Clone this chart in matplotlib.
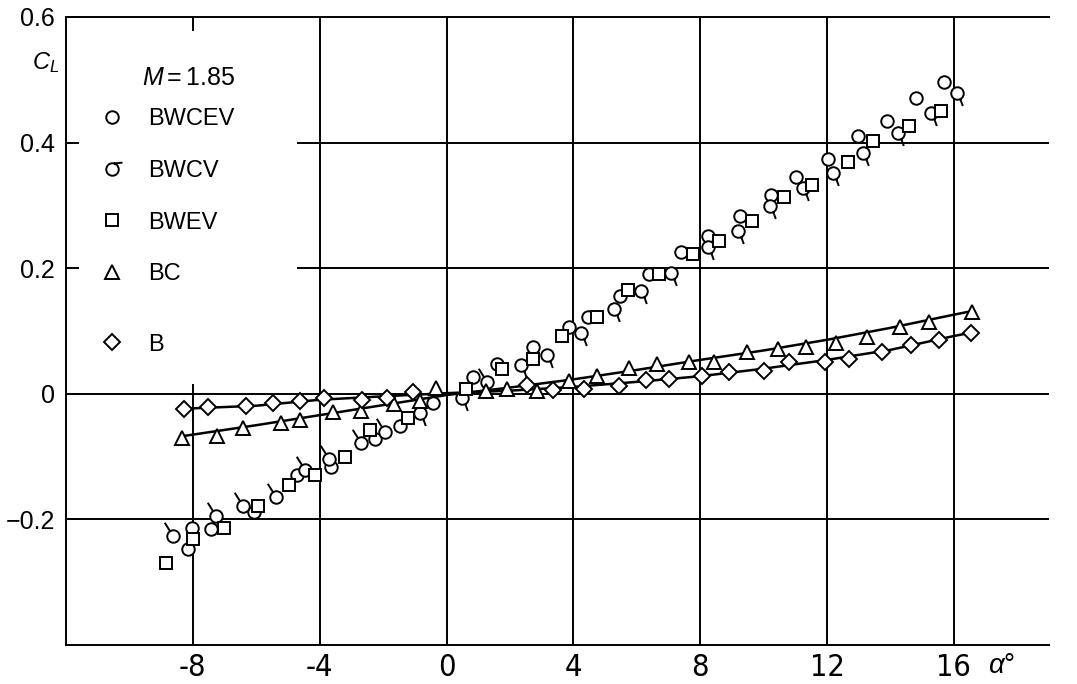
import numpy as np
import matplotlib.pyplot as plt
from matplotlib.path import Path
from matplotlib.lines import Line2D

# valores: alpha (grados) y C_L, M = 1.85
a_bwcev = [-8.16, -8.03, -7.43, -6.06, -4.71, -3.65, -2.27, -1.47, -0.42, 0.84, 1.58, 2.74,
           3.86, 4.47, 5.46, 6.37, 7.39, 8.26, 9.25, 10.23, 11.02, 12.02, 12.97, 13.88, 14.82, 15.68]
cl_bwcev = [-0.247, -0.214, -0.215, -0.189, -0.129, -0.116, -0.072, -0.052, -0.015, 0.027, 0.048, 0.074,
            0.107, 0.122, 0.156, 0.191, 0.226, 0.251, 0.283, 0.317, 0.346, 0.374, 0.411, 0.435, 0.471, 0.496]

# BWCV: banderita hacia arriba-izquierda
a_bwcv_up = [-8.61, -7.27, -6.43, -5.37, -4.45, -3.72, -2.69, -1.93, 1.28]
cl_bwcv_up = [-0.227, -0.194, -0.178, -0.165, -0.121, -0.104, -0.079, -0.061, 0.019]
# BWCV: banderita hacia abajo-derecha
a_bwcv_dn = [-0.84, 0.50, 2.34, 3.18, 4.23, 5.28, 6.13, 7.09, 8.25, 9.18, 10.21, 11.23,
             12.18, 13.15, 14.23, 15.28, 16.10]
cl_bwcv_dn = [-0.031, -0.007, 0.046, 0.062, 0.097, 0.135, 0.163, 0.192, 0.234, 0.260, 0.299, 0.328,
              0.352, 0.383, 0.415, 0.447, 0.479]

a_bwev = [-8.84, -8.00, -7.01, -5.96, -4.96, -4.14, -3.21, -2.42, -1.21, 0.63, 1.76, 2.74, 3.63,
          4.76, 5.71, 6.70, 7.76, 8.60, 9.63, 10.63, 11.52, 12.67, 13.44, 14.58, 15.58]
cl_bwev = [-0.269, -0.231, -0.213, -0.179, -0.145, -0.129, -0.101, -0.058, -0.039, 0.0075, 0.040, 0.056, 0.092,
           0.122, 0.166, 0.191, 0.222, 0.243, 0.275, 0.313, 0.333, 0.369, 0.403, 0.427, 0.450]

a_bc = [-8.35, -7.24, -6.43, -5.21, -4.61, -3.58, -2.69, -1.66, -0.84, -0.33, 1.23, 1.92, 2.84, 3.86,
        4.76, 5.76, 6.65, 7.65, 8.44, 9.49, 10.44, 11.34, 12.28, 13.26, 14.31, 15.23, 16.58]
cl_bc = [-0.071, -0.067, -0.054, -0.046, -0.042, -0.029, -0.028, -0.016, -0.012, 0.009, 0.004, 0.0075, 0.005, 0.021,
         0.029, 0.041, 0.048, 0.051, 0.051, 0.067, 0.071, 0.075, 0.081, 0.090, 0.106, 0.115, 0.131]

a_b = [-8.29, -7.51, -6.32, -5.48, -4.61, -3.87, -2.66, -1.89, -1.06, 2.53, 3.37, 4.34, 5.44, 6.28,
       7.02, 8.07, 8.91, 10.00, 10.81, 11.94, 12.70, 13.73, 14.65, 15.54, 16.55]
cl_b = [-0.024, -0.021, -0.020, -0.015, -0.011, -0.007, -0.0096, -0.007, 0.003, 0.014, 0.006, 0.0075, 0.013, 0.022,
        0.024, 0.029, 0.034, 0.037, 0.050, 0.0505, 0.056, 0.066, 0.078, 0.086, 0.097]

# curvas de ajuste
a_fit = [-8.4, -6, -4, -2, 0, 2, 4, 6, 8, 10, 12, 14, 16, 16.6]
cl_fit_bc = [-0.068, -0.050, -0.034, -0.018, -0.002, 0.010, 0.023, 0.038, 0.054, 0.069, 0.086, 0.105, 0.126, 0.132]
cl_fit_b = [-0.024, -0.019, -0.0095, -0.004, 0.001, 0.005, 0.011, 0.019, 0.028, 0.040, 0.054, 0.070, 0.092, 0.098]

x_ticks = [-8, -4, 0, 4, 8, 12, 16]
y_ticks = [-0.2, 0, 0.2, 0.4, 0.6]
y_labels = ['\u22120.2', '0', '0.2', '0.4', '0.6']

plt.rcParams['font.family'] = ['Liberation Sans', 'DejaVu Sans']
plt.rcParams['mathtext.fontset'] = 'custom'
plt.rcParams['mathtext.rm'] = 'Liberation Sans'
plt.rcParams['mathtext.it'] = 'Liberation Sans:italic'


def flag(sx, sy, ex, ey):
    # circulo con "banderita"
    p = Path.make_compound_path(Path.unit_circle(),
                                Path([(sx, sy), (ex, ey)], [Path.MOVETO, Path.LINETO]))
    return p, np.abs(p.vertices).max()


m_up, s_up = flag(-0.55, 0.85, -1.4, 2.2)
m_dn, s_dn = flag(0.45, -0.9, 0.85, -2.0)
m_leg, s_leg = flag(0.25, 0.97, 1.6, 1.1)

ms_c = 9
kw = dict(ls='none', mfc='white', mec='black', mew=1.4, zorder=4)

fig = plt.figure(figsize=(10.77, 6.84), dpi=100)
ax = fig.add_axes([66 / 1077, 1 - 645 / 684, 983 / 1077, 628 / 684])
ax.set_xlim(-12, 19)
ax.set_ylim(-0.4, 0.6)

# rejilla (con hueco para la leyenda)
lw = 1.4
for x in x_ticks:
    if x == -8:
        ax.axvline(x, ymin=0, ymax=0.414, color='k', lw=lw, zorder=1)
        ax.axvline(x, ymin=0.979, ymax=1, color='k', lw=lw, zorder=1)
    else:
        ax.axvline(x, color='k', lw=lw, zorder=1)
for y in y_ticks[:-1]:
    if y > 0.1:
        ax.axhline(y, xmin=0.236, xmax=1, color='k', lw=lw, zorder=1)
    else:
        ax.axhline(y, color='k', lw=lw, zorder=1)

ax.plot(a_fit, cl_fit_bc, color='k', lw=1.8, zorder=3)
ax.plot(a_fit, cl_fit_b, color='k', lw=1.8, zorder=3)

ax.plot(a_bwcev, cl_bwcev, marker='o', ms=ms_c, **kw)
ax.plot(a_bwcv_up, cl_bwcv_up, marker=m_up, ms=ms_c * s_up, **kw)
ax.plot(a_bwcv_dn, cl_bwcv_dn, marker=m_dn, ms=ms_c * s_dn, **kw)
ax.plot(a_bwev, cl_bwev, marker='s', ms=8, **kw)
ax.plot(a_bc, cl_bc, marker='^', ms=9.5, **kw)
ax.plot(a_b, cl_b, marker='D', ms=8.5, **kw)

for s in ['left', 'bottom', 'top']:
    ax.spines[s].set_linewidth(1.4)
ax.spines['right'].set_visible(False)

ax.set_xticks(x_ticks)
ax.set_xticklabels([str(v) if v >= 0 else '-' + str(-v) for v in x_ticks],
                   family=['Liberation Sans Narrow', 'DejaVu Sans'], stretch='condensed', fontsize=22)
ax.tick_params(axis='x', length=0, pad=6)
ax.set_yticks(y_ticks)
ax.set_yticklabels(y_labels, fontsize=18)
ax.tick_params(axis='y', direction='in', length=9, width=1.4, pad=8)

ax.set_xlabel(r'$\alpha$°', fontsize=20)
ax.xaxis.set_label_coords(0.952, -0.012)
ax.text(-0.021, 0.928, r'$C_L$', transform=ax.transAxes, fontsize=17, ha='center', va='center')

# leyenda
ax.text(0.077, 0.903, r'$M = 1.85$', transform=ax.transAxes, fontsize=18, va='center')
h1 = [Line2D([], [], marker='o', ms=ms_c, **kw),
      Line2D([], [], marker=m_leg, ms=ms_c * s_leg, **kw),
      Line2D([], [], marker='s', ms=8, **kw),
      Line2D([], [], marker='^', ms=9.5, **kw)]
leg1 = ax.legend(h1, ['BWCEV', 'BWCV', 'BWEV', 'BC'], loc='upper left',
                 bbox_to_anchor=(0.035, 0.855), frameon=False, fontsize=17,
                 handlelength=1.0, handletextpad=1.0, labelspacing=1.26, borderpad=0, borderaxespad=0)
ax.add_artist(leg1)
ax.legend([Line2D([], [], marker='D', ms=8.5, **kw)], ['B'], loc='upper left',
          bbox_to_anchor=(0.035, 0.496), frameon=False, fontsize=17,
          handlelength=1.0, handletextpad=1.0, borderpad=0, borderaxespad=0)

plt.savefig('out.png', dpi=100)
